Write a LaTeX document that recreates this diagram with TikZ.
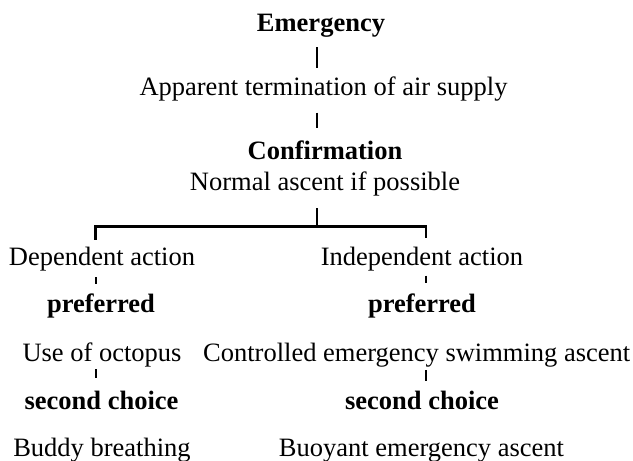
\documentclass[tikz,border=0pt]{standalone}
\usepackage{fontspec}
\setmainfont{Liberation Serif}
\usetikzlibrary{calc}
\begin{document}
\begin{tikzpicture}[x=1pt,y=-1pt,
  txt/.style={anchor=base,inner sep=0pt,text height=17.5pt,text depth=5.8pt,
    font=\fontsize{26.5}{30}\selectfont},
  btxt/.style={txt,font=\fontsize{26.5}{30}\selectfont\bfseries},
  solidline/.style={line width=2.5pt,line join=miter},
  tick/.style={line width=1.8pt}]
\useasboundingbox (0,0) rectangle (633,461);
% reference x positions
\coordinate (tr) at (316.8,0);
\coordinate (lx) at (95.7,0);
\coordinate (rx) at (426,0);
\coordinate (hb) at (0,226.5);
% nodes
\node[btxt] (emg) at (321,31.7) {Emergency};
\node[txt] (app) at (323.5,95) {Apparent termination of air supply};
\node[btxt] (conf) at (325,159) {Confirmation};
\node[txt] (norm) at (325,190) {Normal ascent if possible};
\node[txt] (dep) at (102,265) {Dependent action};
\node[txt] (ind) at (422,265) {Independent action};
\node[btxt] (prefL) at (101,312.7) {preferred};
\node[btxt] (prefR) at (422,312.7) {preferred};
\node[txt] (oct) at (102,361.7) {Use of octopus};
\node[txt] (cesa) at (416.7,361.7) {Controlled emergency swimming ascent};
\node[btxt] (secL) at (101.5,409) {second choice};
\node[btxt] (secR) at (422,409) {second choice};
\node[txt] (buddy) at (102,456.7) {Buddy breathing};
\node[txt] (bea) at (421.5,456.7) {Buoyant emergency ascent};
% connectors
\draw[solidline] ($(emg.south -| tr)+(0,9.5)$) -- ($(app.north -| tr)+(0,-9.5)$);
\draw[solidline] ($(app.south -| tr)+(0,11.5)$) -- ($(conf.north -| tr)+(0,-13.5)$);
\draw[solidline] ($(norm.south -| tr)+(0,12)$) -- (tr |- hb);
\draw[solidline] ($(dep.north -| lx)+(0,-7.5)$) -- (lx |- hb) -- (rx |- hb)
  -- ($(ind.north -| rx)+(0,-9.5)$);
\draw[tick] ($(dep.south -| lx)+(0,6)$) -- ($(prefL.north -| lx)+(0,-11)$);
\draw[tick] ($(ind.south -| rx)+(0,4.5)$) -- ($(prefR.north -| rx)+(0,-12)$);
\draw[tick] ($(oct.south -| lx)+(0,1.5)$) -- ($(secL.north -| lx)+(0,-13.5)$);
\draw[tick] ($(cesa.south -| rx)+(0,2.5)$) -- ($(secR.north -| rx)+(0,-10.5)$);
\end{tikzpicture}
\end{document}
